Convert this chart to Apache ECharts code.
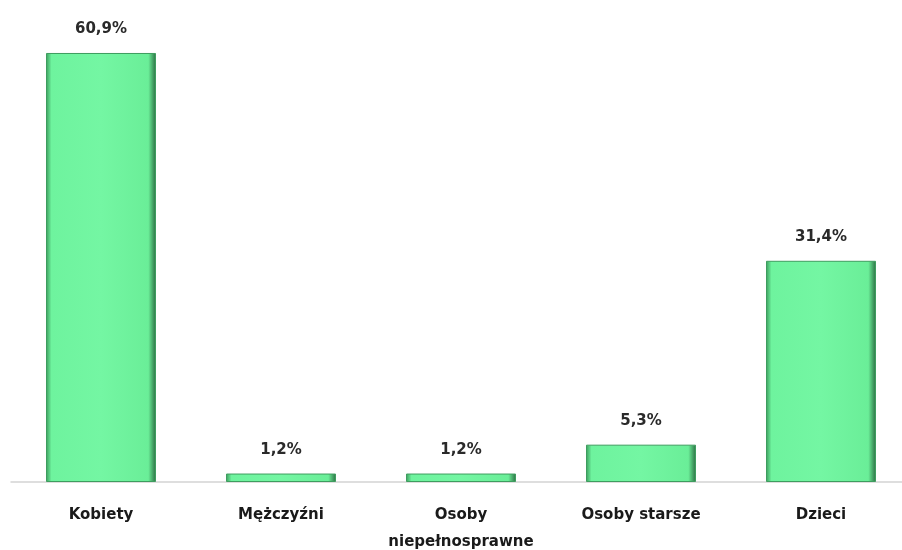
<!DOCTYPE html>
<html>
<head>
<meta charset="utf-8">
<script src="https://cdn.jsdelivr.net/npm/echarts@6/dist/echarts.min.js"></script>
<style>
  html, body { margin: 0; padding: 0; background: #fff; }
  #chart { width: 902px; height: 550px; }
</style>
</head>
<body>
<div id="chart"></div>
<script>
// data
const categories = ['Kobiety', 'Mężczyźni', 'Osoby\nniepełnosprawne', 'Osoby starsze', 'Dzieci'];
const shares = [60.9, 1.2, 1.2, 5.3, 31.4];

const chart = echarts.init(document.getElementById('chart'));

const barFill = new echarts.graphic.LinearGradient(0, 0, 1, 0, [
    { offset: 0, color: '#3c9a5c' },
    { offset: 0.05, color: '#6ef39e' },
    { offset: 0.5, color: '#74f6a3' },
    { offset: 0.93, color: '#6aee98' },
    { offset: 1, color: '#2c6e43' }
]);

const option = {
    animation: false,
    grid: { left: 11, right: -9, top: 10, bottom: 68, containLabel: false, outerBoundsMode: 'none' },
    xAxis: {
        type: 'category',
        data: categories,
        axisLine: { lineStyle: { color: '#d4d4d4', width: 1.5 } },
        axisTick: { show: false },
        axisLabel: {
            color: '#1a1a1a',
            fontFamily: 'DejaVu Sans',
            fontWeight: 'bold',
            fontSize: 15,
            margin: 20,
            lineHeight: 27,
            interval: 0
        }
    },
    yAxis: {
        type: 'value',
        min: 0,
        max: 67,
        show: false
    },
    series: [{
        type: 'bar',
        data: shares,
        barWidth: 110,
        itemStyle: {
            color: barFill,
            borderColor: '#3e9d5f',
            borderWidth: 1
        },
        label: {
            show: true,
            position: 'top',
            distance: 16,
            color: '#2a2a2a',
            fontFamily: 'DejaVu Sans',
            fontWeight: 'bold',
            fontSize: 15,
            formatter: (p) => p.value.toFixed(1).replace('.', ',') + '%'
        }
    }]
};

chart.setOption(option);
</script>
</body>
</html>
